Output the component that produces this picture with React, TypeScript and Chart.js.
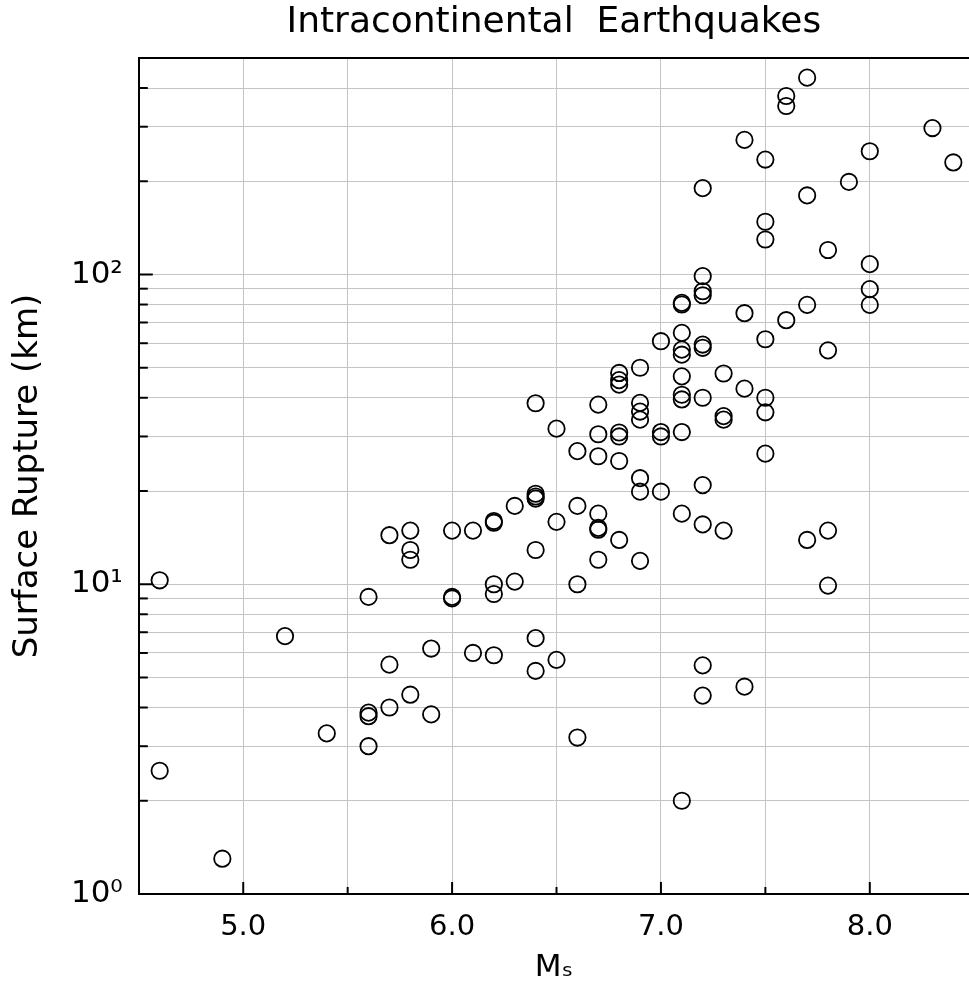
import React, { useEffect, useRef } from "react";
import { Chart, registerables } from "chart.js";

Chart.register(...registerables);

// ---- data ----
const magnitude: number[] = [
  4.6, 4.6,
  4.9,
  5.2,
  5.4,
  5.6, 5.6, 5.6, 5.6,
  5.7, 5.7, 5.7,
  5.8, 5.8, 5.8, 5.8,
  5.9, 5.9,
  6.0, 6.0, 6.0,
  6.1, 6.1,
  6.2, 6.2, 6.2, 6.2, 6.2,
  6.3, 6.3,
  6.4, 6.4, 6.4, 6.4, 6.4, 6.4, 6.4,
  6.5, 6.5, 6.5,
  6.6, 6.6, 6.6, 6.6,
  6.7, 6.7, 6.7, 6.7, 6.7, 6.7, 6.7,
  6.8, 6.8, 6.8, 6.8, 6.8, 6.8, 6.8,
  6.9, 6.9, 6.9, 6.9, 6.9, 6.9, 6.9,
  7.0, 7.0, 7.0, 7.0,
  7.1, 7.1, 7.1, 7.1, 7.1, 7.1, 7.1, 7.1, 7.1, 7.1, 7.1,
  7.2, 7.2, 7.2, 7.2, 7.2, 7.2, 7.2, 7.2, 7.2, 7.2, 7.2,
  7.3, 7.3, 7.3, 7.3,
  7.4, 7.4, 7.4, 7.4,
  7.5, 7.5, 7.5, 7.5, 7.5, 7.5, 7.5,
  7.6, 7.6, 7.6,
  7.7, 7.7, 7.7, 7.7,
  7.8, 7.8, 7.8, 7.8,
  7.9,
  8.0, 8.0, 8.0, 8.0,
  8.3,
  8.4,
];

const ruptureKm: number[] = [
  10.3, 2.5,
  1.3,
  6.8,
  3.3,
  9.1, 3.85, 3.75, 3.0,
  14.4, 5.5, 4.0,
  14.9, 12.9, 12.0, 4.4,
  6.2, 3.8,
  14.9, 9.0, 9.1,
  14.9, 6.0,
  15.8, 16.0, 10.0, 9.3, 5.9,
  17.9, 10.2,
  38.4, 18.9, 19.2, 19.6, 12.9, 6.7, 5.25,
  31.8, 15.9, 5.7,
  26.9, 17.9, 10.0, 3.2,
  38.0, 30.5, 25.9, 16.9, 15.0, 15.2, 12.0,
  48.1, 45.6, 44.1, 30.9, 30.0, 25.0, 13.9,
  50.0, 38.5, 36.1, 34.0, 22.0, 19.9, 11.9,
  60.9, 31.0, 30.0, 19.9,
  80.0, 81.0, 64.8, 57.2, 55.1, 46.9, 40.9, 39.5, 31.0, 16.9, 2.0,
  190, 98.8, 88.3, 85.7, 59.4, 58.0, 40.0, 20.9, 15.6, 5.47, 4.37,
  47.9, 34.9, 34.0, 14.9,
  272, 75.0, 42.8, 4.67,
  235, 148, 129.7, 61.8, 40.0, 35.9, 26.4,
  377, 350, 71.2,
  432, 180, 79.8, 13.9,
  120, 56.9, 14.9, 9.9,
  199,
  250, 108, 89.7, 79.8,
  297,
  230,
];

const xTickValues: number[] = [5.0, 5.5, 6.0, 6.5, 7.0, 7.5, 8.0];
const xTickLabels: string[] = ["5.0", "", "6.0", "", "7.0", "", "8.0"];
const yTickValues: number[] = [
  1, 2, 3, 4, 5, 6, 7, 8, 9,
  10, 20, 30, 40, 50, 60, 70, 80, 90,
  100, 200, 300, 400,
];
const yMajorValues: number[] = [1, 10, 100];
const yMajorLabels: string[] = ["10\u2070", "10\u00B9", "10\u00B2"];

const chartTitle = "Intracontinental  Earthquakes";
const xAxisTitle = "M\u209B";
const yAxisTitle = "Surface Rupture (km)";

const X_MIN = 4.5;
const X_MAX = 8.475;
const Y_MIN = 1;
const Y_MAX = 500;

const FONT = "'DejaVu Sans', sans-serif";

const innerTicks = {
  id: "innerTicks",
  beforeDatasetsDraw(chart: any) {
    const { ctx, chartArea, scales } = chart;
    ctx.save();
    ctx.strokeStyle = "#000";
    ctx.lineWidth = 2;
    // top frame line
    ctx.beginPath();
    ctx.moveTo(chartArea.left, chartArea.top);
    ctx.lineTo(chartArea.right, chartArea.top);
    ctx.stroke();
    // y ticks (inside)
    const ys = scales.y;
    yTickValues.forEach((v) => {
      const py = ys.getPixelForValue(v);
      const len = yMajorValues.includes(v) ? 14 : 9;
      ctx.beginPath();
      ctx.moveTo(chartArea.left, py);
      ctx.lineTo(chartArea.left + len, py);
      ctx.stroke();
    });
    // x ticks (inside)
    const xs = scales.x;
    xTickValues.forEach((v) => {
      const px = xs.getPixelForValue(v);
      const len = Number.isInteger(v) ? 12 : 7;
      ctx.beginPath();
      ctx.moveTo(px, chartArea.bottom);
      ctx.lineTo(px, chartArea.bottom - len);
      ctx.stroke();
    });
    ctx.restore();
  },
};

export default function App() {
  const canvasRef = useRef<HTMLCanvasElement | null>(null);

  useEffect(() => {
    document.body.style.margin = "0";
    const canvas = canvasRef.current;
    if (!canvas) return;
    const points = magnitude.map((m, i) => ({ x: m, y: ruptureKm[i] }));

    const chart = new Chart(canvas, {
      type: "scatter",
      data: {
        datasets: [
          {
            data: points,
            pointStyle: "circle",
            pointRadius: 8.2,
            pointBorderWidth: 1.8,
            pointBorderColor: "#000",
            pointBackgroundColor: "rgba(0,0,0,0)",
            showLine: false,
          },
        ],
      },
      options: {
        responsive: false,
        animation: false,
        devicePixelRatio: 1,
        events: [],
        layout: { padding: 0, autoPadding: false },
        plugins: {
          legend: { display: false },
          tooltip: { enabled: false },
          title: {
            display: true,
            text: chartTitle,
            fullSize: false,
            color: "#000",
            font: { family: FONT, size: 36, weight: "normal", lineHeight: 1.2 },
            padding: { top: 1, bottom: 13.8 },
          },
        },
        scales: {
          x: {
            type: "linear",
            min: X_MIN,
            max: X_MAX,
            afterBuildTicks: (s: any) => {
              s.ticks = xTickValues.map((v) => ({ value: v }));
            },
            afterFit: (s: any) => {
              s.height = 100;
            },
            ticks: {
              autoSkip: false,
              maxRotation: 0,
              padding: 16,
              color: "#000",
              font: { family: FONT, size: 29 },
              callback: (v: any) => {
                const i = xTickValues.indexOf(Number(v));
                return i >= 0 ? xTickLabels[i] : "";
              },
            },
            grid: { color: "#c4c4c4", lineWidth: 1, drawTicks: false },
            border: { color: "#000", width: 2 },
            title: {
              display: true,
              text: xAxisTitle,
              color: "#000",
              font: { family: FONT, size: 31, lineHeight: 1.2 },
              padding: { top: 0, bottom: 7 },
            },
          },
          y: {
            type: "logarithmic",
            min: Y_MIN,
            max: Y_MAX,
            afterBuildTicks: (s: any) => {
              s.ticks = yTickValues.map((v) => ({ value: v }));
            },
            afterFit: (s: any) => {
              s.width = 138.8;
            },
            ticks: {
              autoSkip: false,
              padding: 16,
              color: "#000",
              font: { family: FONT, size: 31 },
              callback: (v: any) => {
                const i = yMajorValues.indexOf(Number(v));
                return i >= 0 ? yMajorLabels[i] : "";
              },
            },
            grid: { color: "#c4c4c4", lineWidth: 1, drawTicks: false },
            border: { color: "#000", width: 2 },
            title: {
              display: true,
              text: yAxisTitle,
              color: "#000",
              font: { family: FONT, size: 34, lineHeight: 1.2 },
              padding: { top: 8, bottom: 0 },
            },
          },
        },
      },
      plugins: [innerTicks],
    } as any);

    return () => {
      chart.destroy();
    };
  }, []);

  return (
    <div style={{ width: 969, height: 994, position: "relative" }}>
      <canvas
        ref={canvasRef}
        width={969}
        height={994}
        style={{ display: "block", width: 969, height: 994 }}
      />
    </div>
  );
}
